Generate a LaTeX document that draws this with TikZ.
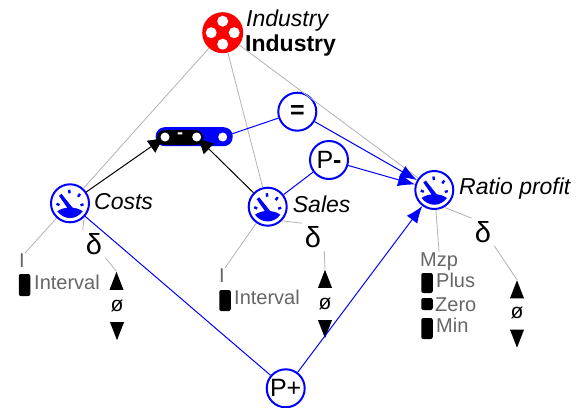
\documentclass[tikz,border=0pt]{standalone}
\usepackage{fontspec}
\setmainfont{Liberation Sans}
\usetikzlibrary{arrows.meta}
\usetikzlibrary{shapes.geometric}

\definecolor{linegrey}{gray}{0.7}
\definecolor{textgrey}{gray}{0.4}

\tikzset{
    gaugenode/.style={circle, draw=blue, fill=white, line width=2pt, minimum size=38pt, inner sep=0pt},
    opnode/.style={gaugenode, font=\fontsize{25}{27}\selectfont},
    namelabel/.style={anchor=base west, inner sep=0pt, font=\fontsize{23}{25}\selectfont\itshape},
    unitlabel/.style={anchor=base west, inner sep=0pt, text=textgrey, font=\fontsize{20}{22}\selectfont},
    deltalabel/.style={inner sep=3pt, font=\fontsize{29}{31}\selectfont},
    nulllabel/.style={inner sep=0pt, font=\fontsize{21}{23}\selectfont},
    qblock/.style={fill=black, rounded corners=2pt, minimum width=11.5pt, inner sep=0pt},
    uptri/.style={isosceles triangle, isosceles triangle stretches, fill=black, inner sep=0pt,
        minimum height=18pt, minimum width=14pt, shape border rotate=90},
    downtri/.style={uptri, shape border rotate=-90},
    hole/.style={circle, fill=white, minimum size=9pt, inner sep=0pt},
    greyline/.style={draw=linegrey, line width=0.8pt},
    blueline/.style={draw=blue, line width=1pt},
    bluearrow/.style={blueline, -{Latex[length=17pt, width=13pt]}},
    blackarrow/.style={draw=black, line width=1pt, -{Latex[length=17pt, width=15pt]}},
}

\newcommand{\gaugeicon}[1]{
    \begin{scope}[shift={(#1)}]
        \fill[blue] (-12.7, 8) .. controls (-6, 3) and (6, 3) .. (12.7, 8)
            .. controls (6, 17) and (-6, 17) .. cycle;
        \fill[blue] (-11, -7.5) -- (-8.5, -9.5) -- (3, 5) -- (-1, 7) -- cycle;
        \draw[blue, line width=2.4pt] (-13.5, 0.5) -- (-10.5, 1.8);
        \draw[blue, line width=2.4pt] (-0.9, -13.5) -- (-0.4, -10);
        \draw[blue, line width=2.4pt] (10, -9.5) -- (8, -6.5);
        \draw[blue, line width=2.4pt] (13.5, 1) -- (10.5, 2);
    \end{scope}
}

\begin{document}
\begin{tikzpicture}[x=1pt, y=-1pt]
    \useasboundingbox (0, 0) rectangle (581, 407);

    % main circles
    \node[circle, fill=red, minimum size=41pt, inner sep=0pt] (industry) at (222.7, 32.7) {};
    \node[gaugenode] (costs) at (70, 203.3) {};
    \node[gaugenode] (sales) at (267.7, 206.7) {};
    \node[gaugenode] (ratio) at (434.3, 190) {};
    \node[opnode] (equal) at (297.3, 111.7) {\textbf{=}};
    \node[opnode] (pminus) at (329, 160) {P\textbf{-}};
    \node[opnode] (pplus) at (285.7, 388.3) {P+};

    % holes of the industry icon
    \foreach \dx/\dy in {0/-11.5, 11.5/0, 0/11.5, -11.5/0}
        \fill[white] (222.7+\dx, 32.7+\dy) circle (5.5);
    \gaugeicon{costs}
    \gaugeicon{sales}
    \gaugeicon{ratio}

    % labels
    \node[namelabel] (industryname) at (246, 26.7) {Industry};
    \node[namelabel, font=\fontsize{23}{25}\selectfont\bfseries] (industrytype) at (245, 51.7) {Industry};
    \node[namelabel] (costsname) at (94, 209) {Costs};
    \node[namelabel] (salesname) at (292.7, 212) {Sales};
    \node[namelabel] (rationame) at (459, 194) {Ratio profit};

    % quantity space of costs
    \node[unitlabel] (costsi) at (19, 267) {I};
    \node[qblock, minimum height=22pt] (costsblock) at (24.5, 285) {};
    \node[unitlabel] (costsinterval) at (34, 289) {Interval};
    \node[deltalabel] (costsdelta) at (94, 244) {δ};
    \node[uptri] (costsup) at (116.5, 285) {};
    \node[nulllabel] (costsnull) at (117, 306) {ø};
    \node[downtri] (costsdown) at (117, 327) {};

    % quantity space of sales
    \node[unitlabel] (salesi) at (219, 282) {I};
    \node[qblock, minimum height=21pt] (salesblock) at (225, 300.5) {};
    \node[unitlabel] (salesinterval) at (234, 304) {Interval};
    \node[deltalabel] (salesdelta) at (313, 237) {δ};
    \node[uptri] (salesup) at (325, 283) {};
    \node[nulllabel] (salesnull) at (325, 304) {ø};
    \node[downtri] (salesdown) at (325, 325) {};

    % quantity space of ratio profit
    \node[unitlabel] (ratiomzp) at (420, 266) {Mzp};
    \node[qblock, minimum height=20pt] (plusblock) at (427, 283) {};
    \node[unitlabel] (ratioplus) at (436, 287) {Plus};
    \node[qblock, minimum height=12pt] (zeroblock) at (427, 304) {};
    \node[unitlabel] (ratiozero) at (435, 311) {Zero};
    \node[qblock, minimum height=21pt] (minblock) at (427, 328.5) {};
    \node[unitlabel] (ratiomin) at (436, 332) {Min};
    \node[deltalabel] (ratiodelta) at (483, 232) {δ};
    \node[uptri] (ratioup) at (517, 293.5) {};
    \node[nulllabel] (rationull) at (517, 313) {ø};
    \node[downtri] (ratiodown) at (517, 334.5) {};

    % grey links
    \draw[greyline] (industry) -- (costs);
    \draw[greyline] (industry) -- (sales);
    \draw[greyline] (industry) -- (ratio);
    \draw[greyline] (costs) -- (costsi.north east);
    \draw[greyline] (costs.-45) -- (costsdelta.north west);
    \draw[greyline] (costsdelta.south east) -- (costsup.apex);
    \draw[greyline] (sales) -- (salesi.north east);
    \draw[greyline] (sales.-45) -- (salesdelta.north west);
    \draw[greyline] (salesdelta.south east) -- (salesup.apex);
    \draw[greyline] (ratio) -- (ratiomzp.north);
    \draw[greyline] (ratio.-60) -- (ratiodelta.north west);
    \draw[greyline] (ratiodelta.south east) -- (ratioup.apex);

    % operator bar
    \node[fill=blue, rounded corners=9pt, minimum width=77pt, minimum height=19pt, inner sep=0pt] (bar) at (194.2, 136.7) {};
    \node[fill=black, rounded corners=7.5pt, minimum width=46pt, minimum height=15pt, inner sep=0pt] (barblack) at (180, 137.5) {};
    \coordinate (barleft) at (165, 137);
    \coordinate (barmid) at (196.7, 137);
    \coordinate (barright) at (222.7, 137);

    % causal links
    \draw[blackarrow] (costs) -- (barleft);
    \draw[blackarrow] (sales) -- (barmid);
    \draw[blueline] (equal) -- (barright);
    \draw[bluearrow] (equal) -- (ratio);
    \draw[bluearrow] (pminus) -- (ratio);
    \draw[blueline] (sales) -- (pminus);
    \draw[blueline] (costs) -- (pplus);
    \draw[bluearrow] (pplus) -- (ratio);

    \node[hole] (holeleft) at (barleft) {};
    \node[hole] (holemid) at (barmid) {};
    \node[hole] (holeright) at (barright) {};
    \node[text=white, inner sep=0pt, font=\fontsize{18}{20}\selectfont\bfseries] (barminus) at (180, 136) {-};
\end{tikzpicture}
\end{document}
